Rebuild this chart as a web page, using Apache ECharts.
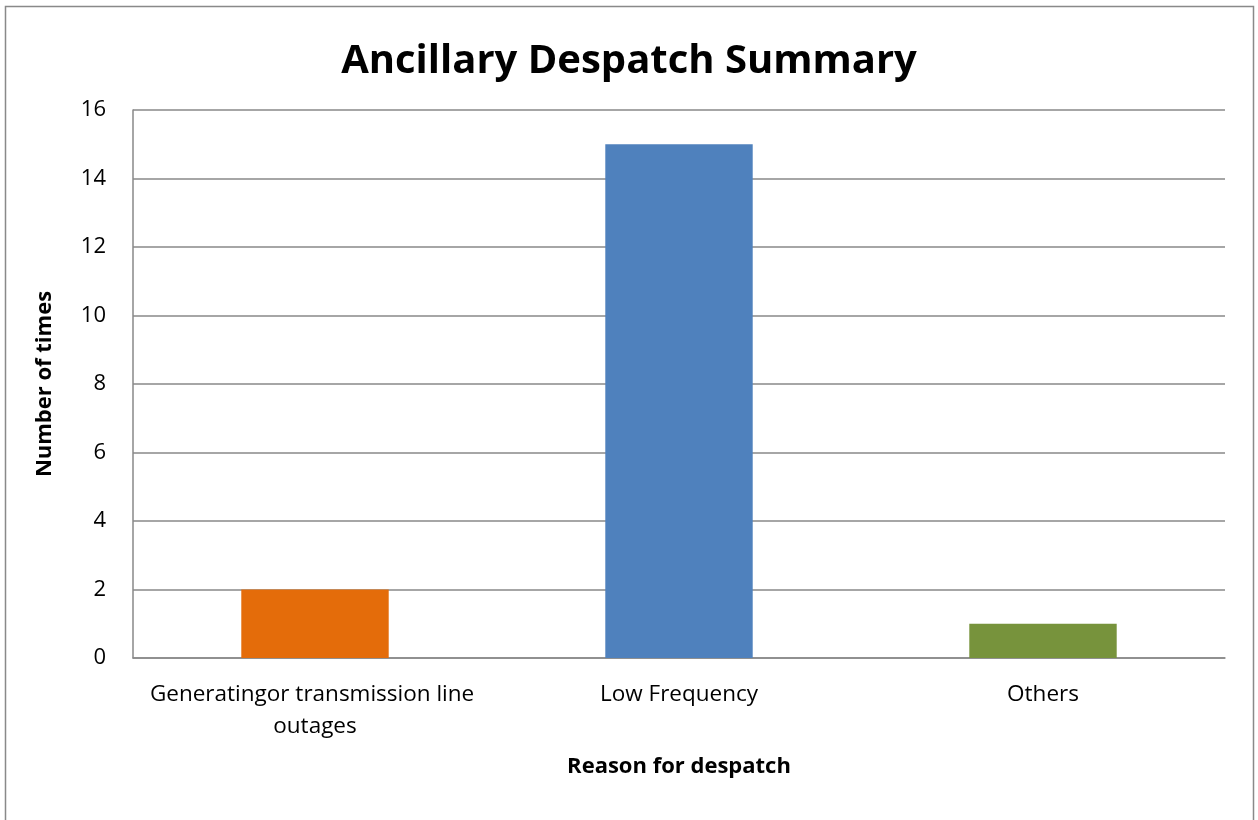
<!DOCTYPE html>
<html>
<head>
<meta charset="utf-8">
<script src="https://cdn.jsdelivr.net/npm/echarts@6/dist/echarts.min.js"></script>
<style>
  html, body { margin: 0; padding: 0; background: #fff; }
  #chart { width: 1258px; height: 820px; }
</style>
</head>
<body>
<div id="chart"></div>
<script>
const categories = ['Generatingor transmission line outages', 'Low Frequency', 'Others']
const counts = [2, 15, 1]
const barColors = ['#E46C0A', '#4F81BD', '#77933C']
const yTicks = { min: 0, max: 16, interval: 2 }

const font = '"Open Sans", Lato, sans-serif'
const chart = echarts.init(document.getElementById('chart'), null, { renderer: 'canvas' })

chart.setOption({
  animation: false,
  backgroundColor: '#fff',
  title: {
    text: 'Ancillary Despatch Summary',
    left: 'center',
    top: 37,
    textStyle: { fontFamily: font, fontSize: 40, fontWeight: 'bold', color: '#000' }
  },
  graphic: [{
    type: 'rect',
    shape: { x: 5.5, y: 6.5, width: 1248, height: 830 },
    style: { fill: 'none', stroke: '#898989', lineWidth: 1.5 },
    silent: true
  }],
  grid: { left: 133, right: 33, top: 110, bottom: 162 },
  xAxis: {
    type: 'category',
    data: categories,
    name: 'Reason for despatch',
    nameLocation: 'middle',
    nameGap: 98,
    nameTextStyle: { fontFamily: font, fontSize: 22, fontWeight: 'bold', color: '#000' },
    axisLine: { lineStyle: { color: '#898989', width: 1.5 } },
    axisTick: { show: false },
    axisLabel: {
      interval: 0,
      fontFamily: font, fontSize: 22.5, color: '#000', margin: 21,
      width: 345, overflow: 'break', lineHeight: 32
    }
  },
  yAxis: {
    type: 'value',
    min: yTicks.min,
    max: yTicks.max,
    interval: yTicks.interval,
    name: 'Number of times',
    nameLocation: 'middle',
    nameGap: 77,
    nameTextStyle: { fontFamily: font, fontSize: 22, fontWeight: 'bold', color: '#000' },
    axisLine: { show: true, lineStyle: { color: '#898989', width: 1.5 } },
    axisTick: { show: false },
    splitLine: { lineStyle: { color: '#898989', width: 1.5 } },
    axisLabel: { fontFamily: font, fontSize: 22, color: '#000', margin: 27 }
  },
  series: [{
    type: 'bar',
    data: counts.map((v, i) => ({ value: v, itemStyle: { color: barColors[i] } })),
    barWidth: '40.5%'
  }]
})
</script>
</body>
</html>
